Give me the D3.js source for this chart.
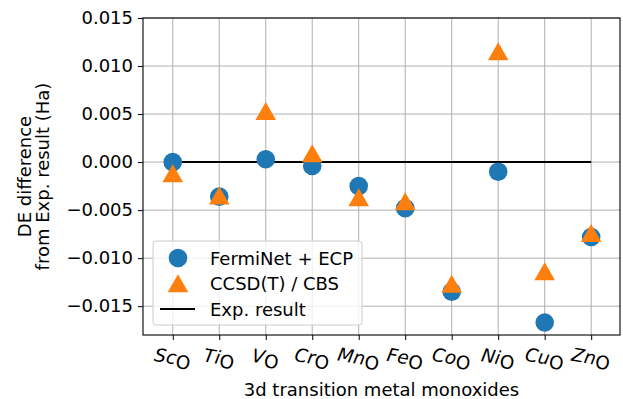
<!DOCTYPE html>
<html>
<head>
<meta charset="utf-8">
<script src="https://cdn.jsdelivr.net/npm/d3@7"></script>
<style>
  body { margin: 0; background: #fff; }
  svg text { font-family: "DejaVu Sans", sans-serif; fill: #000; }
</style>
</head>
<body>
<div id="chart"></div>
<script>
// ---------------- data
const metals = ["Sc", "Ti", "V", "Cr", "Mn", "Fe", "Co", "Ni", "Cu", "Zn"]
const fermiNet = [0.0000, -0.0036, 0.0003, -0.0004, -0.0025, -0.0048, -0.0135, -0.0010, -0.0167, -0.0078]
const ccsdt = [-0.0012, -0.0035, 0.0053, 0.0009, -0.0037, -0.0041, -0.0127, 0.0115, -0.0114, -0.0074]
const expValue = 0.0
const yTicks = [-0.015, -0.010, -0.005, 0.000, 0.005, 0.010, 0.015]

// ---------------- dimensions
const dims = { width: 623, height: 399, left: 143, right: 3, top: 18, bottom: 64 }
dims.ctrWidth = dims.width - dims.left - dims.right
dims.ctrHeight = dims.height - dims.top - dims.bottom

const svg = d3.select("#chart").append("svg")
  .attr("width", dims.width)
  .attr("height", dims.height)

const ctr = svg.append("g")
  .attr("transform", `translate(${dims.left},${dims.top})`)

// ---------------- scales
const xScale = d3.scaleLinear()
  .domain([-0.64, 9.62])
  .range([0, dims.ctrWidth])

const yScale = d3.scaleLinear()
  .domain([-0.018, 0.015])
  .range([dims.ctrHeight, 0])

const idx = d3.range(metals.length)

// ---------------- grid
ctr.append("g").selectAll("line")
  .data(idx).join("line")
  .attr("x1", d => xScale(d)).attr("x2", d => xScale(d))
  .attr("y1", 0).attr("y2", dims.ctrHeight)
  .attr("stroke", "#b0b0b0").attr("stroke-width", 1)

ctr.append("g").selectAll("line")
  .data(yTicks).join("line")
  .attr("x1", 0).attr("x2", dims.ctrWidth)
  .attr("y1", d => yScale(d)).attr("y2", d => yScale(d))
  .attr("stroke", "#b0b0b0").attr("stroke-width", 1)

// ---------------- exp line
ctr.append("line")
  .attr("x1", xScale(0)).attr("x2", xScale(metals.length - 1))
  .attr("y1", yScale(expValue)).attr("y2", yScale(expValue))
  .attr("stroke", "#000").attr("stroke-width", 2)

// ---------------- markers
ctr.append("g").selectAll("circle")
  .data(fermiNet).join("circle")
  .attr("cx", (d, i) => xScale(i))
  .attr("cy", d => yScale(d))
  .attr("r", 9.3)
  .attr("fill", "#1f77b4")

const tri = "M0,-9.3L10.3,8.7L-10.3,8.7Z"
ctr.append("g").selectAll("path")
  .data(ccsdt).join("path")
  .attr("d", tri)
  .attr("transform", (d, i) => `translate(${xScale(i)},${yScale(d)})`)
  .attr("fill", "#ff7f0e")

// ---------------- axes
const yAxis = d3.axisLeft(yScale)
  .tickValues(yTicks)
  .tickFormat(d => d3.format(".3f")(d).replace("-", "\u2212"))
  .tickSize(5).tickPadding(5)

ctr.append("g").call(yAxis)
  .call(g => g.select(".domain").remove())
  .call(g => g.selectAll("text").style("font-size", "18px").attr("fill", "#000"))
  .call(g => g.selectAll("line").attr("stroke", "#000"))

const xAxis = d3.axisBottom(xScale)
  .tickValues(idx)
  .tickFormat("")
  .tickSize(5)

ctr.append("g")
  .attr("transform", `translate(0,${dims.ctrHeight})`)
  .call(xAxis)
  .call(g => g.select(".domain").remove())
  .call(g => g.selectAll("line").attr("stroke", "#000"))

// rotated tick labels: italic metal + upright O
const xLabels = ctr.append("g").selectAll("text")
  .data(metals).join("text")
  .attr("text-anchor", "middle")
  .attr("dominant-baseline", "central")
  .attr("transform", (d, i) => `translate(${xScale(i)},${dims.ctrHeight + 22}) rotate(10)`)
  .style("font-size", "18.5px")
xLabels.append("tspan").style("font-style", "italic").text(d => d)
xLabels.append("tspan").attr("dy", 3).text("O")

// frame
ctr.append("rect")
  .attr("width", dims.ctrWidth).attr("height", dims.ctrHeight)
  .attr("fill", "none").attr("stroke", "#000").attr("stroke-width", 1.1)

// ---------------- axis titles
ctr.append("text")
  .attr("x", dims.ctrWidth / 2)
  .attr("y", dims.ctrHeight + 61)
  .attr("text-anchor", "middle")
  .style("font-size", "18px")
  .text("3d transition metal monoxides")

const yTitle = svg.append("text")
  .attr("transform", `translate(0,${dims.top + dims.ctrHeight / 2}) rotate(-90)`)
  .attr("text-anchor", "middle")
  .style("font-size", "18px")
yTitle.append("tspan").attr("x", 0).attr("y", 31).text("DE difference")
yTitle.append("tspan").attr("x", 0).attr("y", 48.5).text("from Exp. result (Ha)")

// ---------------- legend
const legend = svg.append("g").attr("transform", "translate(153,241)")
legend.append("rect")
  .attr("width", 209).attr("height", 84)
  .attr("rx", 3)
  .attr("fill", "#fff").attr("fill-opacity", 0.8)
  .attr("stroke", "#cccccc").attr("stroke-width", 1)

const legendItems = ["FermiNet + ECP", "CCSD(T) / CBS", "Exp. result"]
legendItems.forEach((label, i) => {
  const cy = 17 + i * 25.5
  if (i === 0) legend.append("circle").attr("cx", 25).attr("cy", cy).attr("r", 9.3).attr("fill", "#1f77b4")
  if (i === 1) legend.append("path").attr("d", tri).attr("transform", `translate(25,${cy})`).attr("fill", "#ff7f0e")
  if (i === 2) legend.append("line").attr("x1", 7).attr("x2", 42).attr("y1", cy).attr("y2", cy).attr("stroke", "#000").attr("stroke-width", 2)
  legend.append("text")
    .attr("x", 57).attr("y", cy + 6.5)
    .style("font-size", "18px")
    .text(label)
})
</script>
</body>
</html>
